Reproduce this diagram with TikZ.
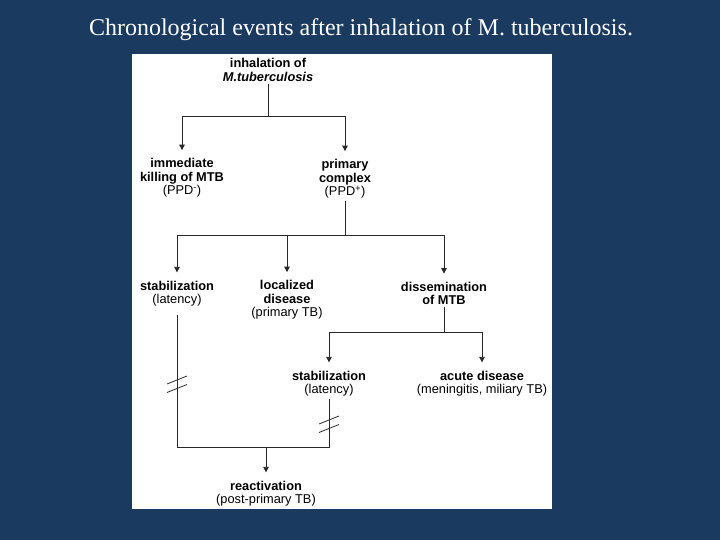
\documentclass[tikz,border=0pt]{standalone}
\usepackage{fontspec}
\setmainfont{Liberation Serif}
\newfontfamily\arialfont{Liberation Sans}
\usetikzlibrary{arrows.meta}
\definecolor{slideblue}{RGB}{27,58,95}
\definecolor{inkgray}{RGB}{40,40,40}
\tikzset{
  box/.style={align=center,font=\arialfont\fontsize{12.8}{13.5}\selectfont,inner sep=2pt},
  arr/.style={-{Triangle[length=5.5pt,width=5.5pt]},shorten >=6pt},
}
\begin{document}
\begin{tikzpicture}[x=1pt,y=-1pt,line width=0.8pt,draw=inkgray]
\fill[slideblue] (0,0) rectangle (720,540);
\useasboundingbox (0,0) rectangle (720,540);
\fill[white] (132,54) rectangle (552,509);
\node[white,font=\fontsize{24}{28}\selectfont] (title) at (361,30) {Chronological events after inhalation of M. tuberculosis.};
% boxes
\node[box] (inhal) at (268,70) {\textbf{inhalation of}\\\textbf{\textit{M.tuberculosis}}};
\node[box] (kill) at (182,178) {\textbf{immediate}\\\textbf{killing of MTB}\\(PPD\textsuperscript{-})};
\node[box] (prim) at (345,179) {\textbf{primary}\\\textbf{complex}\\(PPD\textsuperscript{+})};
\node[box] (stab1) at (177,293.5) {\textbf{stabilization}\\(latency)};
\node[box] (local) at (287,300) {\textbf{localized}\\\textbf{disease}\\(primary TB)};
\node[box] (dissem) at (444,293.5) {\textbf{dissemination}\\\textbf{of MTB}};
\node[box] (stab2) at (329,383.5) {\textbf{stabilization}\\(latency)};
\node[box] (acute) at (482,383.5) {\textbf{acute disease}\\(meningitis, miliary TB)};
\node[box] (react) at (266,493.5) {\textbf{reactivation}\\(post-primary TB)};
% connectors
\coordinate (j1) at (268,116);
\coordinate (j2) at (345,235);
\coordinate (j3) at (444,332);
\coordinate (j4) at (177,447);
\coordinate (j5) at (329,447);
\draw (inhal) -- (j1);
\draw[arr] (j1) -| (kill);
\draw[arr] (j1) -| (prim);
\draw (prim) -- (j2);
\draw[arr] (j2) -| (stab1);
\draw[arr] (j2) -| (dissem);
\draw[arr] (local |- j2) -- (local);
\draw (dissem) -- (j3);
\draw[arr] (j3) -| (stab2);
\draw[arr] (j3) -| (acute);
\draw[shorten <=6pt] (stab1) -- (j4) -- (j5) -- (stab2);
\draw[arr] (react |- j4) -- (react);
% breaks
\foreach \y in {380,388.5}
  \draw (167,\y+4) -- (187,\y-4);
\foreach \y in {420,428.5}
  \draw (319,\y+4) -- (339,\y-4);
\end{tikzpicture}
\end{document}
